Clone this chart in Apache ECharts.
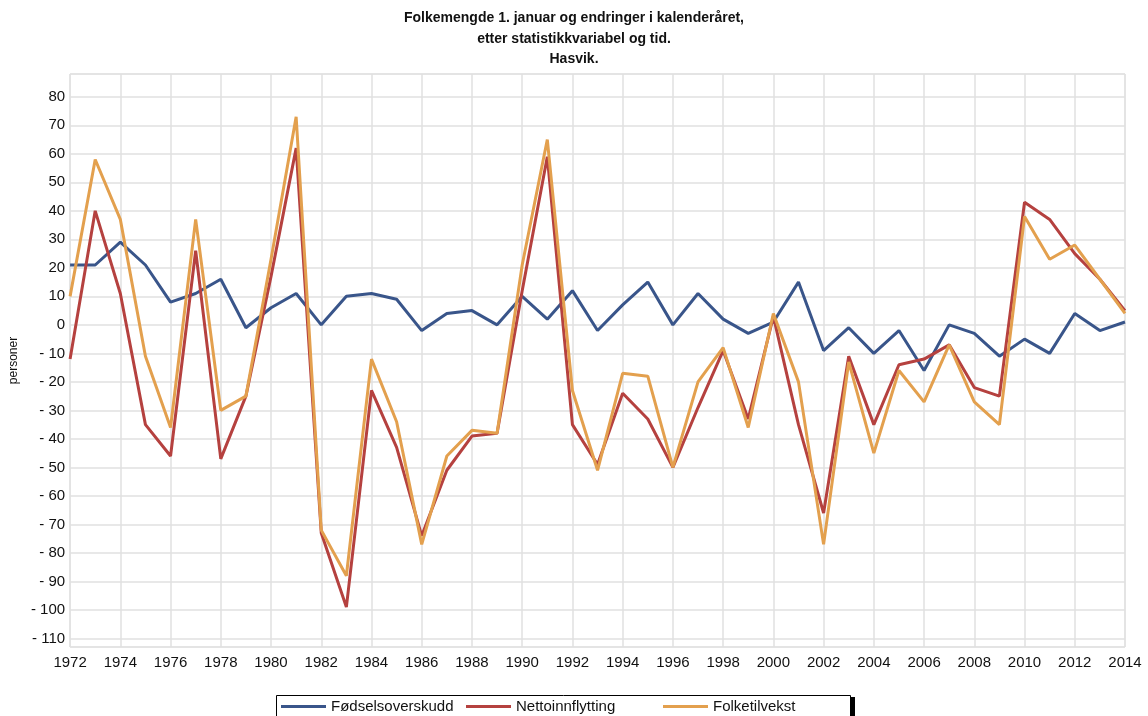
<!DOCTYPE html>
<html>
<head>
<meta charset="utf-8">
<script src="https://cdn.jsdelivr.net/npm/echarts@6/dist/echarts.min.js"></script>
<style>
html, body { margin: 0; padding: 0; background: #fff; }
#chart { width: 1148px; height: 716px; }
</style>
</head>
<body>
<div id="chart"></div>
<script>
// år 1972-2014
var years = [];
for (var y = 1972; y <= 2014; y++) years.push(String(y));

var fodselsoverskudd = [21, 21, 29, 21, 8, 11, 16, -1, 6, 11,
  0, 10, 11, 9, -2, 4, 5, 0, 10, 2,
  12, -2, 7, 15, 0, 11, 2, -3, 1, 15,
  -9, -1, -10, -2, -16, 0, -3, -11, -5, -10,
  4, -2, 1];

var nettoinnflytting = [-12, 40, 11, -35, -46, 26, -47, -25, 17, 62,
  -73, -99, -23, -43, -74, -51, -39, -38, 12, 59,
  -35, -49, -24, -33, -50, -29, -9, -33, 3, -35,
  -66, -11, -35, -14, -12, -7, -22, -25, 43, 37,
  25, 16, 5];

var folketilvekst = [10, 58, 37, -11, -36, 37, -30, -25, 23, 73,
  -72, -88, -12, -34, -77, -46, -37, -38, 21, 65,
  -23, -51, -17, -18, -50, -20, -8, -36, 4, -20,
  -77, -13, -45, -16, -27, -7, -27, -35, 38, 23,
  28, 16, 4];

var seriesNames = ['Fødselsoverskudd', 'Nettoinnflytting', 'Folketilvekst'];

var chart = echarts.init(document.getElementById('chart'));

// en legend per serie, plassert i faste kolonner
var legendLefts = [281, 466, 663];
var legends = seriesNames.map(function (n, i) {
  return {
    data: [n],
    left: legendLefts[i],
    top: 699,
    padding: 0,
    itemWidth: 45,
    itemHeight: 12,
    icon: 'path://M0,5 L45,5 L45,8 L0,8 Z',
    z: 10,
    textStyle: {
      fontFamily: 'Liberation Sans',
      fontSize: 15,
      color: '#111'
    }
  };
});

var option = {
  animation: false,
  backgroundColor: '#fff',
  color: ['#39558a', '#b5413f', '#e3a04e'],
  title: {
    text: 'Folkemengde 1. januar og endringer i kalenderåret,\netter statistikkvariabel og tid.\nHasvik.',
    left: 'center',
    top: 3,
    textStyle: {
      fontFamily: 'Liberation Sans',
      fontSize: 14,
      fontWeight: 'bold',
      color: '#111',
      lineHeight: 20.5
    }
  },
  legend: legends,
  // ramme rundt legenden, med tykk høyrekant
  graphic: [{
    type: 'rect',
    z: 1,
    shape: { x: 276.5, y: 695.5, width: 574, height: 24 },
    style: { fill: '#fff', stroke: '#000', lineWidth: 1 }
  }, {
    type: 'rect',
    z: 1,
    shape: { x: 850, y: 697, width: 5, height: 22 },
    style: { fill: '#000' }
  }],
  grid: {
    left: 70,
    right: 23,
    top: 74,
    bottom: 69,
    show: true,
    borderColor: '#dcdcdc',
    borderWidth: 1
  },
  xAxis: {
    type: 'category',
    data: years,
    boundaryGap: false,
    axisLine: { show: false },
    axisTick: { show: false },
    axisLabel: {
      interval: 1,
      fontFamily: 'Liberation Sans',
      fontSize: 15,
      color: '#111',
      margin: 8
    },
    splitLine: {
      show: true,
      interval: 1,
      lineStyle: { color: '#e0e0e0', width: 1.5 }
    }
  },
  yAxis: {
    type: 'value',
    min: -113,
    max: 88,
    minInterval: 10,
    maxInterval: 10,
    name: 'personer',
    nameLocation: 'middle',
    nameGap: 42,
    nameTextStyle: {
      fontFamily: 'Liberation Sans',
      fontSize: 12,
      color: '#111'
    },
    axisLine: { show: false },
    axisTick: { show: false },
    axisLabel: {
      showMinLabel: false,
      showMaxLabel: false,
      fontFamily: 'Liberation Sans',
      fontSize: 15,
      color: '#111',
      margin: 5,
      formatter: function (v) {
        return v < 0 ? '- ' + Math.abs(v) : String(v);
      }
    },
    splitLine: {
      lineStyle: { color: '#e0e0e0', width: 1.5 }
    }
  },
  series: [
    {
      name: seriesNames[0],
      type: 'line',
      data: fodselsoverskudd,
      symbol: 'none',
      lineStyle: { width: 3 }
    },
    {
      name: seriesNames[1],
      type: 'line',
      data: nettoinnflytting,
      symbol: 'none',
      lineStyle: { width: 3 }
    },
    {
      name: seriesNames[2],
      type: 'line',
      data: folketilvekst,
      symbol: 'none',
      lineStyle: { width: 3 }
    }
  ]
};

chart.setOption(option);
</script>
</body>
</html>
